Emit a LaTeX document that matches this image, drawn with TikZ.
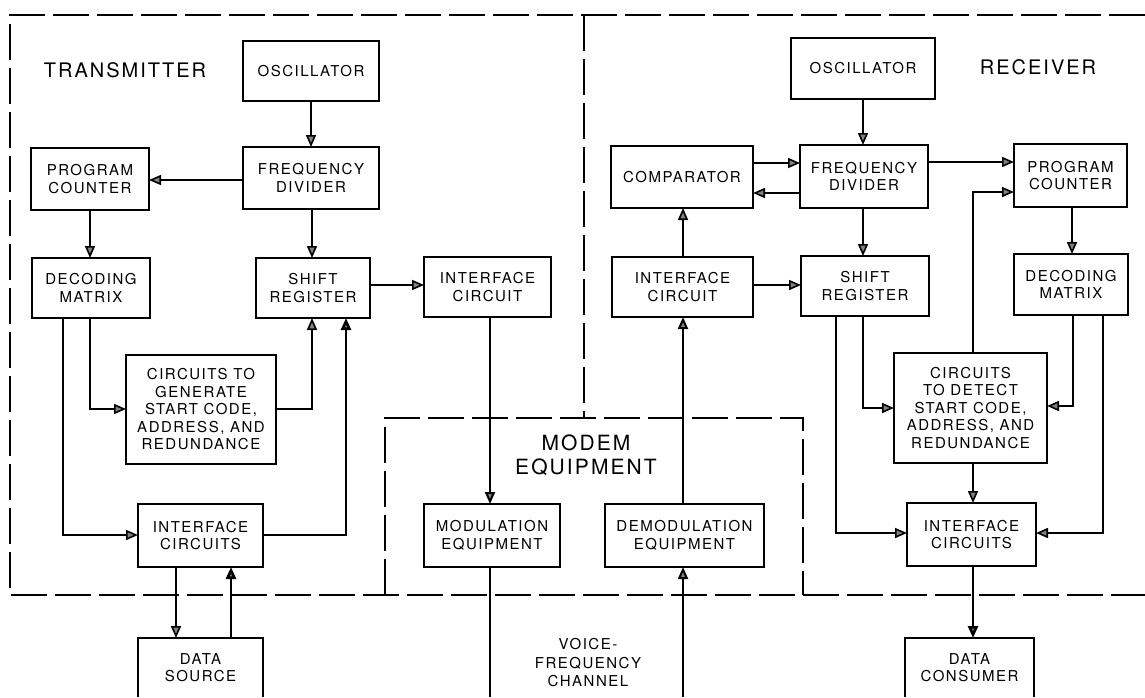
\documentclass[tikz,border=0pt]{standalone}
\usepackage{fontspec}
\setmainfont{TeX Gyre Heros}
\newfontfamily\boxfont[LetterSpace=10]{TeX Gyre Heros}
\newfontfamily\bigfont[LetterSpace=10]{TeX Gyre Heros}
\usetikzlibrary{arrows.meta,calc}
\tikzset{
  box/.style={draw, line width=1.9pt, inner sep=0pt, outer sep=0pt, align=center,
    font=\boxfont\fontsize{15}{17.5}\selectfont},
  openbox/.style={draw=none, inner sep=0pt, outer sep=0pt, align=center,
    font=\boxfont\fontsize{15}{17.5}\selectfont},
  boxline/.style={line width=1.9pt},
  conn/.style={line width=1.6pt},
  thickconn/.style={line width=2.6pt},
  medconn/.style={line width=2.0pt},
  dashline/.style={line width=2.1pt, dash pattern=on 36pt off 8pt},
  biglabel/.style={font=\bigfont\fontsize{20}{24}\selectfont, align=center, inner sep=0pt},
  smalllabel/.style={font=\boxfont\fontsize{15}{18.5}\selectfont, align=center, inner sep=0pt},
  >={Triangle[length=12pt,width=10pt,fill=black!50]}
}
\newcommand\mkbox[6]{%
  \node[box, minimum width={(#4-#2)*1pt}, minimum height={(#5-#3)*1pt}] (#1) at ({(#2+#4)/2},{(#3+#5)/2}) {#6};}
\begin{document}
\begin{tikzpicture}[x=1pt,y=-1pt]
\fill[white] (0,0) rectangle (1145,697);
\useasboundingbox (0,0) rectangle (1145,697);

% dashed enclosures
\draw[dashline] (1145,15) -- (10,15) -- (10,595) -- (1145,595);
\draw[dashline] (584,15) -- (584,418);
\draw[dashline] (385,595) -- (385,418) -- (803,418) -- (803,595);

% labels
\node[biglabel] (txlabel) at (125,70) {TRANSMITTER};
\node[biglabel] (rxlabel) at (1038,67) {RECEIVER};
\node[biglabel, font=\bigfont\fontsize{21}{24}\selectfont] (modemlabel) at (586,455) {MODEM\\EQUIPMENT};
\node[smalllabel] (vfc) at (588,663) {VOICE-\\FREQUENCY\\CHANNEL};

% transmitter boxes
\mkbox{tosc}{243}{41}{379}{101}{OSCILLATOR}
\mkbox{tfd}{243}{147}{379}{209}{FREQUENCY\\DIVIDER}
\mkbox{tpc}{31}{148}{149}{210}{PROGRAM\\COUNTER}
\mkbox{tdm}{32}{258}{150}{318}{DECODING\\MATRIX}
\mkbox{tsr}{256}{258}{370}{318}{SHIFT\\REGISTER}
\mkbox{tic}{424}{257}{551}{317}{INTERFACE\\CIRCUIT}
\mkbox{tgen}{126}{355}{276}{464}{CIRCUITS TO\\GENERATE\\START CODE,\\ADDRESS, AND\\REDUNDANCE}
\mkbox{tics}{138}{504}{263}{567}{INTERFACE\\CIRCUITS}
\node[openbox, minimum width=125pt, minimum height=59pt] (tds) at (200.5,667.5) {DATA\\SOURCE};
\draw[boxline] (tds.south west) |- (tds.north east) -- (tds.south east);

% modem boxes
\mkbox{mod}{424}{504}{560}{567}{MODULATION\\EQUIPMENT}
\mkbox{demod}{605}{504}{764}{567}{DEMODULATION\\EQUIPMENT}

% receiver boxes
\mkbox{rosc}{791}{38}{935}{99}{OSCILLATOR}
\mkbox{rcomp}{611}{146}{753}{208}{COMPARATOR}
\mkbox{rfd}{800}{145}{928}{208}{FREQUENCY\\DIVIDER}
\mkbox{rpc}{1014}{144}{1127}{207}{PROGRAM\\COUNTER}
\mkbox{ric}{612}{257}{753}{317}{INTERFACE\\CIRCUIT}
\mkbox{rsr}{801}{256}{929}{316}{SHIFT\\REGISTER}
\mkbox{rdm}{1014}{254}{1128}{315}{DECODING\\MATRIX}
\mkbox{rdet}{894}{353}{1047}{463}{CIRCUITS\\TO DETECT\\START CODE,\\ADDRESS, AND\\REDUNDANCE}
\mkbox{rics}{907}{503}{1036}{566}{INTERFACE\\CIRCUITS}
\node[openbox, minimum width=129pt, minimum height=59pt] (rdc) at (969.5,667.5) {DATA\\CONSUMER};
\draw[boxline] (rdc.south west) |- (rdc.north east) -- (rdc.south east);

\coordinate (modend) at (490,697);
\coordinate (demodstart) at (683,697);

% transmitter connectors
\draw[conn,->] (tosc.south) -- (tfd.north -| tosc.south);
\draw[conn,->] (tfd.west |- 0,180) -- (tpc.east |- 0,180);
\draw[conn,->] (tpc.south) -- (tdm.north -| tpc.south);
\draw[conn,->] (tfd.south -| 312,0) -- (tsr.north -| 312,0);
\draw[conn,->] (tsr.east |- 0,285) -- (tic.west |- 0,285);
\draw[conn,->] (tdm.south -| 90,0) |- (tgen.west |- 0,409);
\draw[conn,->] (tgen.east |- 0,409) -| (tsr.south -| 312,0);
\draw[conn,->] (tdm.south -| 63,0) |- (tics.west |- 0,535);
\draw[thickconn,->] (tics.east |- 0,535) -| (tsr.south -| 346,0);
\draw[conn,->] (tics.south -| 176,0) -- (tds.north -| 176,0);
\draw[thickconn,->] (tds.north -| 231,0) -- (tics.south -| 231,0);
\draw[medconn,->] (tic.south -| 490,0) -- (mod.north -| 490,0);
\draw[medconn] (mod.south -| 490,0) -- (modend);

% receiver connectors
\draw[conn,->] (rosc.south -| 863,0) -- (rfd.north -| 863,0);
\draw[conn,->] (rcomp.east |- 0,163) -- (rfd.west |- 0,163);
\draw[conn,->] (rfd.west |- 0,193) -- (rcomp.east |- 0,193);
\draw[conn,->] (rfd.east |- 0,162) -- (rpc.west |- 0,162);
\draw[conn,->] (rdet.north -| 973,0) |- (rpc.west |- 0,192);
\draw[conn,->] (rpc.south -| 1072,0) -- (rdm.north -| 1072,0);
\draw[conn,->] (rfd.south -| 863,0) -- (rsr.north -| 863,0);
\draw[conn,->] (ric.north -| 683,0) -- (rcomp.south -| 683,0);
\draw[conn,->] (ric.east |- 0,285) -- (rsr.west |- 0,285);
\draw[medconn,->] (demod.north -| 683,0) -- (ric.south -| 683,0);
\draw[medconn,->] (demodstart) -- (demod.south -| 683,0);
\draw[conn,->] (rsr.south -| 863,0) |- (rdet.west |- 0,408);
\draw[conn,->] (rsr.south -| 836,0) |- (rics.west |- 0,533);
\draw[conn,->] (rdm.south -| 1073,0) |- (rdet.east |- 0,406);
\draw[conn,->] (rdm.south -| 1103,0) |- (rics.east |- 0,533);
\draw[conn,->] (rdet.south -| 973,0) -- (rics.north -| 973,0);
\draw[thickconn,->] (rics.south -| 973,0) -- (rdc.north -| 973,0);
\end{tikzpicture}
\end{document}
